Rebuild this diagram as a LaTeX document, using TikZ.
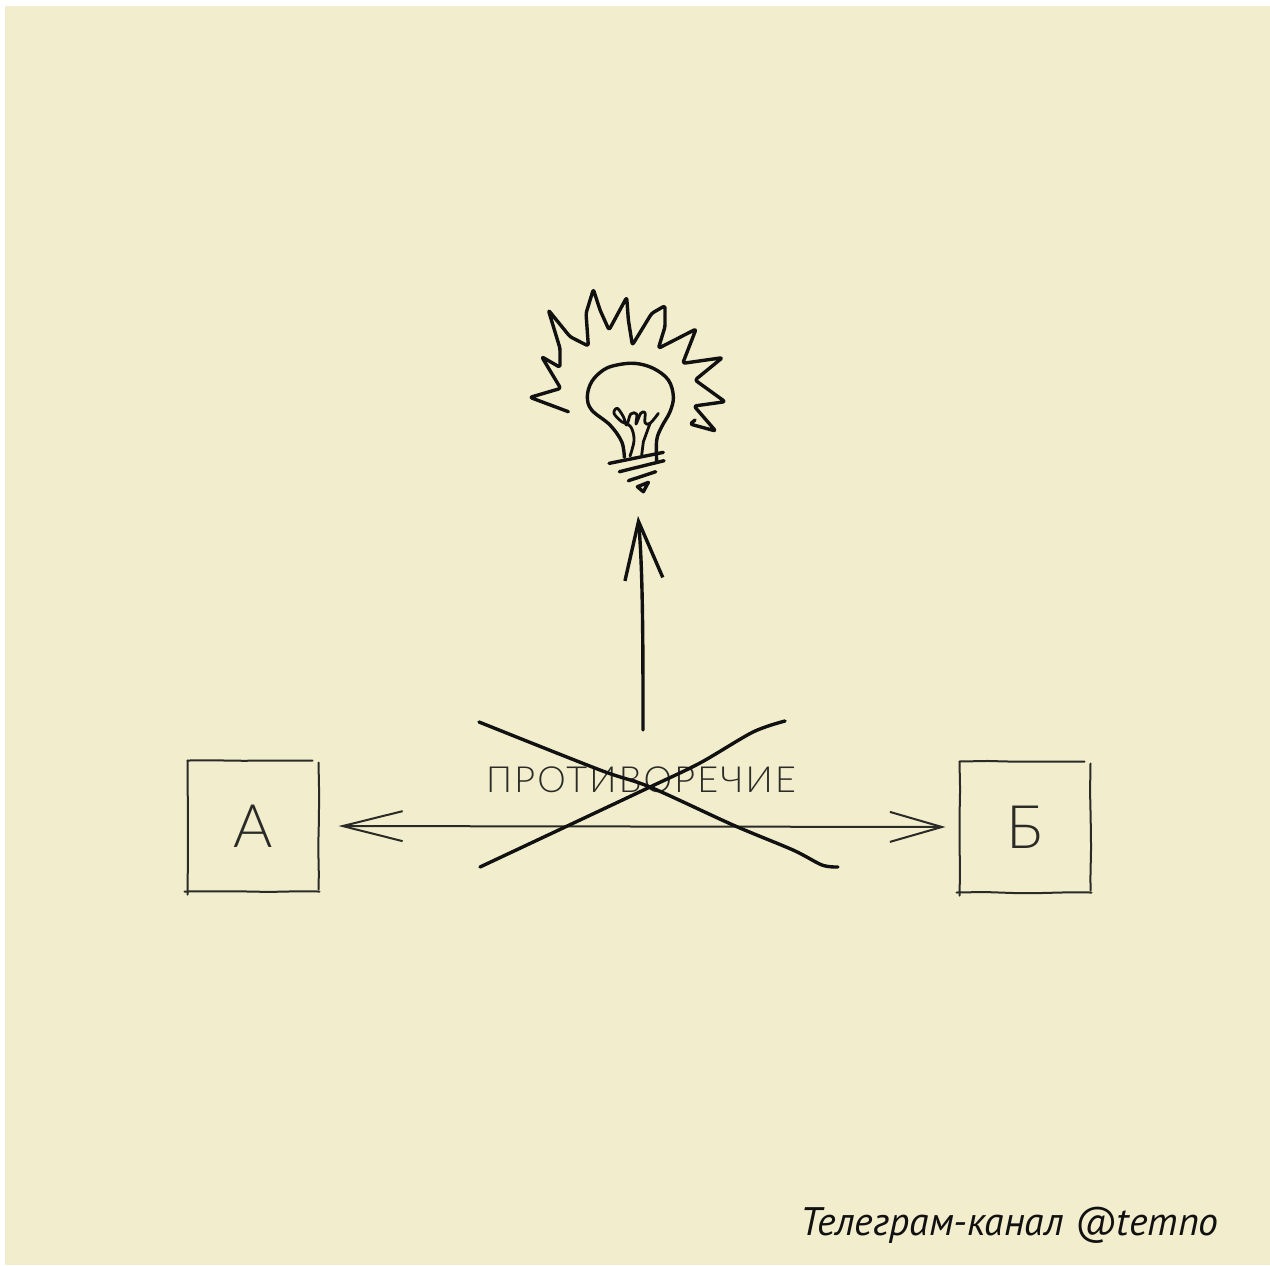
\documentclass[tikz,border=0pt]{standalone}
\usepackage{fontspec}
\usepackage{xcolor}
\usepackage{tikz}
\usetikzlibrary{calc}
\usetikzlibrary{arrows.meta, decorations.pathmorphing}
\setmainfont{PT Sans}
\newfontfamily\handfont[LetterSpace=6]{Lato Light}
\definecolor{paper}{HTML}{F2EDCC}
\definecolor{ink}{HTML}{111111}
\definecolor{softink}{HTML}{2A2A26}

\begin{document}
\begin{tikzpicture}[
  x=0.5pt, y=-0.5pt,
  pen/.style={draw=ink, line width=1.7pt, line cap=round, line join=round},
  finepen/.style={draw=softink, line width=1pt, line cap=round, line join=round},
  wobble/.style={decorate, decoration={random steps, segment length=14pt, amplitude=0.3pt}},
  square/.style={minimum size=65.5pt, inner sep=0pt, outer sep=0pt},
  letter/.style={font=\handfont\fontsize{30}{30}\selectfont, text=softink},
  arrowup/.style={-{Straight Barb[length=29pt, width=19pt, line width=1.7pt]}},
  arrowboth/.style={{Straight Barb[length=30pt, width=15pt]}-{Straight Barb[length=26pt, width=15pt]}},
]
\pgfmathsetseed{7}
\useasboundingbox (0,0) rectangle (1270,1265);
\fill[paper] (5,6) rectangle (1270,1265);

%% ── Squares with their letters ──────────────────────────────
\node[square, letter] (boxA) at (253,826) {А};
\node[square, letter] (boxB) at (1025,827) {Б};

\foreach \b in {boxA, boxB} {
  \draw[finepen, wobble] (\b.north west) -- ([xshift=-3pt]\b.north east);
  \draw[finepen, wobble] ([yshift=-1pt]\b.north east) -- ([yshift=1pt]\b.south east);
  \draw[finepen, wobble] ([xshift=-1.5pt]\b.south west) -- ([xshift=0.5pt]\b.south east);
  \draw[finepen, wobble] (\b.north west) -- ([yshift=-1.5pt]\b.south west);
}

%% ── Word between the squares ────────────────────────────────
\node[font=\handfont\fontsize{18}{18}\selectfont, text=softink, inner sep=0pt] (word) at (641,780) {ПРОТИВОРЕЧИЕ};

%% ── Arrow from the word up to the lamp ──────────────────────
\coordinate (lampfoot) at (638,516);
\coordinate (wordtop) at (643,730);
\draw[pen, arrowup] (wordtop) .. controls (643,650) and (643,570) .. (lampfoot);

%% ── Arrow between the squares ───────────────────────────────
\draw[finepen, arrowboth, shorten <=10pt, shorten >=7pt] (boxA.east) -- (boxB.west);

%% ── Cross over the word ─────────────────────────────────────
\coordinate (crossing) at (650,787);
\draw[pen] plot[smooth, tension=0.5] coordinates {(479,722) (600,770) (crossing) (733,825) (793,850) (822,865) (838,867)};
\draw[pen] plot[smooth, tension=0.5] coordinates {(480,867) (563,828) (crossing) (700,763) (753,732) (785,721)};

%% ── Lamp: rays, bulb, filament, base ────────────────────────
\begin{scope}[shift={(510,270)}, x=0.1667pt, y=-0.1667pt]
  \draw[pen, rounded corners=1.2pt] (175,425) -- (60,382) -- (152,355) -- (95,260) -- (150,292)
    -- (150,235) -- (115,120) -- (180,200) -- (235,228) -- (228,130) -- (250,58) -- (270,120)
    -- (297,180) -- (350,82) -- (355,150) -- (367,225) -- (425,130) -- (465,107) -- (465,170)
    -- (445,235) -- (558,177) -- (518,280) -- (637,263) -- (555,330) -- (645,395) -- (552,408)
    -- (617,483) -- (540,462) -- (555,450);
  \draw[pen] plot[smooth, tension=0.6] coordinates {(343,562) (335,515) (300,465) (245,420) (232,380)
    (245,335) (280,300) (320,285) (375,280) (430,295) (475,330) (490,380) (480,425) (455,470) (440,510) (440,575)};
  \draw[pen, line width=1.4pt] plot[smooth, tension=0.6] coordinates {(360,558) (372,510) (362,470) (335,455)
    (312,430) (322,415) (340,440) (350,465) (362,432) (380,432) (378,462) (392,430) (405,428) (405,458) (420,460) (445,430)};
  \draw[pen, line width=1.4pt] (395,555) -- (400,515) -- (420,460);
  \draw[pen] (297,580) -- (460,547);
  \draw[pen] (328,605) -- (462,572);
  \draw[pen] (355,632) -- (437,605);
  \draw[pen] (382,650) -- (415,637) -- (400,665) -- cycle;
\end{scope}

%% ── Caption ─────────────────────────────────────────────────
\node[font=\itshape\fontsize{19.9}{20}\selectfont, text=ink, anchor=base east, inner sep=0pt] (caption) at (1219,1235) {Телеграм-канал @temno};

\end{tikzpicture}
\end{document}
